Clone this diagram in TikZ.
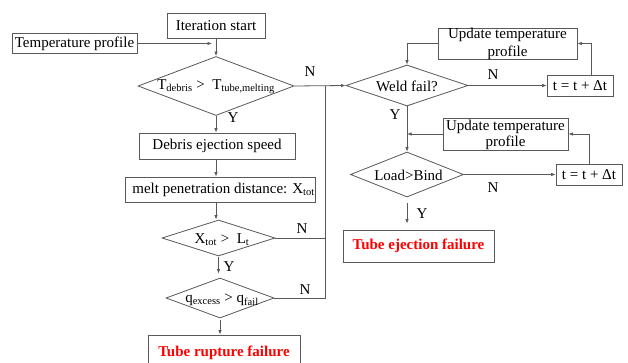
\documentclass[tikz,border=0pt]{standalone}
\usepackage{fontspec}
\setmainfont{Liberation Serif}
\usetikzlibrary{shapes.geometric,arrows.meta}
\begin{document}
\begin{tikzpicture}[x=1pt,y=-1pt,
  line width=0.8pt,
  every node/.style={font=\fontsize{15}{17}\selectfont},
  box/.style={draw=black!65, rectangle, inner sep=0pt},
  dia/.style={draw=black!65, diamond, inner sep=0pt},
  lbl/.style={inner sep=0pt},
  arr/.style={draw=black!65, -{Latex[length=4.5pt,width=3.5pt]}},
  ln/.style={draw=black!65},
  fail/.style={box, text=red, font=\fontsize{15}{17}\selectfont\bfseries}]
\useasboundingbox[fill=white] (0,0) rectangle (628,363);

% left column
\node[box, minimum width=98pt, minimum height=25pt] (start) at (216,25.5) {Iteration start};
\node[box, minimum width=125pt, minimum height=20pt] (temp) at (74.5,43.5) {Temperature profile};
\node[dia, minimum width=156pt, minimum height=59pt] (d1) at (216,86) {};
\node[lbl] (d1t) at (216,87) {T\textsubscript{debris} >~ T\textsubscript{tube,melting}};
\node[box, minimum width=156pt, minimum height=26pt] (speed) at (217,146) {Debris ejection speed};
\node[box, minimum width=190pt, minimum height=25pt] (melt) at (220,189.5) {};
\node[lbl, anchor=west] (meltt) at (132,190) {melt penetration distance: X\textsubscript{tot}};
\node[dia, minimum width=113pt, minimum height=36pt] (d2) at (218.5,238) {};
\node[lbl] (d2t) at (222,240) {X\textsubscript{tot} >~ L\textsubscript{t}};
\node[dia, minimum width=108pt, minimum height=40pt] (d3) at (220,298) {};
\node[lbl] (d3t) at (222,300) {q\textsubscript{excess} > q\textsubscript{fail}};
\node[fail, minimum width=152pt, minimum height=36pt] (rupt) at (224,353) {Tube rupture failure};

% right column
\node[dia, minimum width=122pt, minimum height=41pt] (weld) at (407,85.5) {};
\node[lbl] (weldt) at (407,86) {Weld fail?};
\node[box, minimum width=66pt, minimum height=21pt] (t1) at (580,85.5) {t = t + Δt};
\node[box, minimum width=139pt, minimum height=31pt] (up1) at (507.5,43.5) {};
\node[lbl, align=center, font=\fontsize{15}{18.5}\selectfont] (up1t) at (507.5,44) {Update temperature\\profile};
\node[dia, minimum width=113pt, minimum height=45pt] (load) at (407,174.5) {};
\node[lbl] (loadt) at (408.5,175) {Load>Bind};
\node[box, minimum width=66pt, minimum height=21pt] (t2) at (589,174.5) {t = t + Δt};
\node[box, minimum width=125pt, minimum height=32pt] (up2) at (505.5,134) {};
\node[lbl, align=center, font=\fontsize{15}{16}\selectfont] (up2t) at (505.5,135) {Update temperature\\profile};
\node[fail, minimum width=151pt, minimum height=32pt] (eject) at (418.5,246) {Tube ejection failure};

% labels
\node[lbl] (y1) at (233,118) {Y};
\node[lbl] (n1) at (310,72) {N};
\node[lbl] (n2) at (302,229) {N};
\node[lbl] (y2) at (229,267) {Y};
\node[lbl] (n3) at (305,290) {N};
\node[lbl] (n4) at (493,75) {N};
\node[lbl] (y4) at (395,115) {Y};
\node[lbl] (n5) at (493,188) {N};
\node[lbl] (y5) at (422,214) {Y};

% junction coordinates
\coordinate (j1) at (325,86);
\coordinate (j3) at (325,298);
\coordinate (tempend) at (212,43.5);
\coordinate (bend2) at (407,134);

% connectors left
\draw[arr] (temp.east) -- (tempend);
\draw[arr] (start.south) -- (d1.north);
\draw[arr] (d1.south) -- (d1.south |- speed.north);
\draw[arr] (d1.south |- speed.south) -- (d1.south |- melt.north);
\draw[arr] (d1.south |- melt.south) -- (d1.south |- d2.north);
\draw[arr, shorten <=1pt, shorten >=4pt] (d2.south) -- (d2.south |- d3.north);
\draw[arr, shorten <=2pt] (d3.south) -- (d3.south |- rupt.north);
\draw[ln] (d2.east) -- (d2.east -| j1);
\draw[ln] (d3.east) -- (j3) -- (j1);
\draw[arr] (d1.east) -- (weld.west);

% connectors right
\draw[arr] (weld.east) -- (t1.west);
\draw[arr] (t1.north -| 591,0) |- (up1.east);
\draw[arr] (up1.west) -| (weld.north);
\draw[arr] (weld.south) -- (load.north);
\draw[arr] (up2.west) -- (bend2);
\draw[arr] (load.east) -- (load.east -| t2.west);
\draw[arr] (t2.north) |- (up2.east);
\draw[arr, shorten <=6pt, shorten >=6pt] (load.south) -- (load.south |- eject.north);
\end{tikzpicture}
\end{document}
